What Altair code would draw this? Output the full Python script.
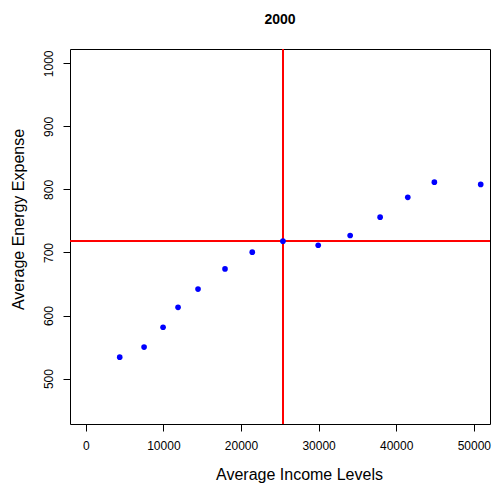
import altair as alt
import pandas as pd

income = [4376, 7516, 9961, 11892, 14466, 17941, 21454, 25405, 29949, 34067, 37928, 41493, 44916, 50888]
energy = [534, 550, 581.5, 613, 642, 674, 700.5, 718, 711.5, 727, 756, 787.5, 811.5, 808]
x_ref = 25405
y_ref = 718
x_ticks = [0, 10000, 20000, 30000, 40000, 50000]
y_ticks = [500, 600, 700, 800, 900, 1000]

df = pd.DataFrame({"income": income, "energy": energy})
FONT = "Liberation Sans"

xscale = alt.Scale(domain=[-2030, 52085], nice=False, zero=False)
yscale = alt.Scale(domain=[428, 1022.7], nice=False, zero=False)

xaxis = alt.Axis(values=x_ticks, title="Average Income Levels", grid=False, domain=False,
                 tickColor="black", tickSize=7, labelColor="black", labelFontSize=12,
                 labelFont=FONT, labelPadding=9, titleFont=FONT, titleFontSize=16,
                 titleFontWeight="normal", titleColor="black", titlePadding=15,
                 titleX=229, format="d")
yaxis = alt.Axis(values=y_ticks, title="Average Energy Expense", grid=False, domain=False,
                 tickColor="black", tickSize=7, labelColor="black", labelFontSize=12,
                 labelFont=FONT, labelPadding=8, labelAngle=270, labelAlign="center",
                 labelBaseline="bottom", titleFont=FONT, titleFontSize=16,
                 titleFontWeight="normal", titleColor="black", titlePadding=16,
                 titleY=170, format="d")

points = alt.Chart(df).mark_circle(color="#0000FF", opacity=1, size=32).encode(
    x=alt.X("income:Q", scale=xscale, axis=xaxis),
    y=alt.Y("energy:Q", scale=yscale, axis=yaxis),
)
vline = alt.Chart(df).mark_rule(color="red", strokeWidth=1, opacity=0.7).encode(x=alt.datum(x_ref, scale=xscale))
hline = alt.Chart(df).mark_rule(color="red", strokeWidth=1, opacity=0.7).encode(y=alt.datum(y_ref, scale=yscale))

chart = alt.layer(vline, hline, points).properties(
    width=420, height=375,
    title=alt.Title("2000", fontSize=14, fontWeight="bold", font=FONT, color="black",
                    anchor="middle", offset=22),
    autosize=alt.AutoSizeParams(type="none"),
    padding={"left": 70, "top": 49, "right": 2, "bottom": 60},
    background="white",
).configure_view(stroke="black", strokeWidth=1)

chart.save("out.html", embed_options={"renderer": "svg", "actions": False})
